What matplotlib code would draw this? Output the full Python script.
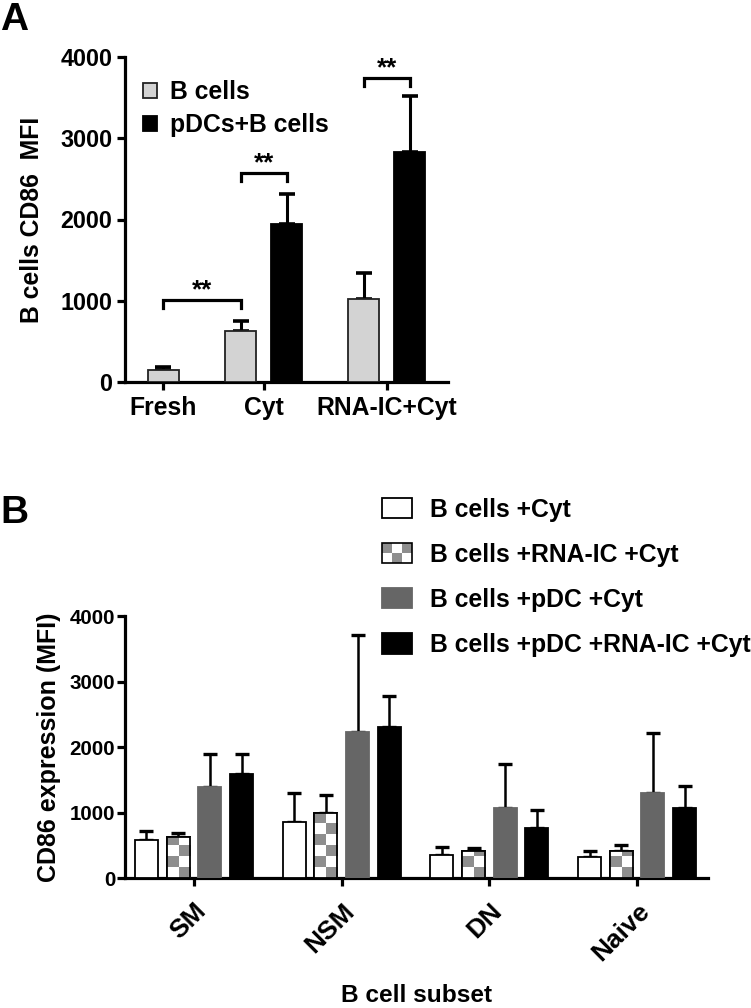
import numpy as np
import matplotlib
matplotlib.use("Agg")
import matplotlib.pyplot as plt
from matplotlib.colors import ListedColormap
from matplotlib.patches import Rectangle
from matplotlib.legend_handler import HandlerBase

plt.rcParams["font.family"] = ["Liberation Sans", "DejaVu Sans"]
plt.rcParams["font.weight"] = "bold"
plt.rcParams["axes.labelweight"] = "bold"

# ---- Panel A data ----
a_groups = ["Fresh", "Cyt", "RNA-IC+Cyt"]
a_series = ["B cells", "pDCs+B cells"]
a_bcells = [150, 628, 1018]
a_bcells_err = [35, 127, 327]
a_pdc = [np.nan, 1945, 2835]
a_pdc_err = [np.nan, 365, 690]
a_yticks = [0, 1000, 2000, 3000, 4000]
a_sig_labels = ["**", "**", "**"]
a_sig_heights = [1010, 2575, 3740]

# ---- Panel B data ----
b_groups = ["SM", "NSM", "DN", "Naive"]
b_series = ["B cells +Cyt", "B cells +RNA-IC +Cyt",
            "B cells +pDC +Cyt", "B cells +pDC +RNA-IC +Cyt"]
b_means = [
    [580, 855, 350, 330],
    [630, 995, 410, 410],
    [1400, 2236, 1068, 1295],
    [1600, 2303, 765, 1068],
]
b_errs = [
    [140, 440, 127, 81],
    [55, 277, 52, 104],
    [498, 1481, 677, 916],
    [292, 483, 280, 346],
]
b_yticks = [0, 1000, 2000, 3000, 4000]

CHECK_GRAY = "#8e8e8e"
W, H = 751, 1008
fig = plt.figure(figsize=(W / 100, H / 100), dpi=100)


def style_axes(ax, lw=2.3):
    for s in ("top", "right"):
        ax.spines[s].set_visible(False)
    for s in ("left", "bottom"):
        ax.spines[s].set_linewidth(lw)
    ax.tick_params(width=lw, length=6, direction="out")


class CheckerHandler(HandlerBase):
    def create_artists(self, legend, orig_handle, xdescent, ydescent,
                       width, height, fontsize, trans):
        arts = []
        nx, ny = 3, 2
        cw, ch = width / nx, height / ny
        for i in range(nx):
            for j in range(ny):
                c = CHECK_GRAY if (i + j) % 2 == 1 else "white"
                arts.append(Rectangle((-xdescent + i * cw, -ydescent + j * ch), cw, ch,
                                      facecolor=c, edgecolor="none", transform=trans))
        arts.append(Rectangle((-xdescent, -ydescent), width, height, facecolor="none",
                              edgecolor="black", lw=1.2, transform=trans))
        return arts


# ================= Panel A =================
axA = fig.add_axes([125 / W, 1 - 382 / H, 323 / W, 325 / H])
style_axes(axA)

a_centers = np.array([1.24, 4.47, 8.44])
a_off = 0.74
bw = 1.0
xb = a_centers - a_off
xb[0] = a_centers[0]          # Fresh has only the B cell bar
xp = a_centers + a_off

axA.bar(xb, a_bcells, width=bw, color="#d3d3d3", edgecolor="#222222",
        linewidth=1.3, zorder=3, label=a_series[0])
axA.bar(xp, a_pdc, width=bw, color="black", edgecolor="black",
        linewidth=1.3, zorder=3, label=a_series[1])
axA.errorbar(xb, a_bcells, yerr=[np.zeros(3), a_bcells_err], fmt="none",
             ecolor="black", elinewidth=2.2, capsize=6, capthick=2.6, zorder=2)
axA.errorbar(xp, a_pdc, yerr=[np.zeros(3), a_pdc_err], fmt="none",
             ecolor="black", elinewidth=2.2, capsize=6, capthick=2.6, zorder=2)

# significance brackets: Fresh->Cyt B cells, then within Cyt and RNA-IC
pairs = [(xb[0], xb[1]), (xb[1], xp[1]), (xb[2], xp[2])]
for (x1, x2), h, lab in zip(pairs, a_sig_heights, a_sig_labels):
    axA.plot([x1, x1, x2, x2], [h - 100, h, h, h - 100], color="black",
             lw=2.3, solid_joinstyle="miter", clip_on=False)
    axA.text((x1 + x2) / 2, h + 30, lab, ha="center", va="baseline",
             fontsize=18.5, fontweight="bold")

axA.set_xlim(0, 10.42)
axA.set_ylim(0, 4000)
axA.set_yticks(a_yticks)
axA.set_xticks(a_centers)
axA.set_xticklabels(a_groups, fontsize=17.8)
axA.tick_params(axis="y", labelsize=16.8, pad=3)
axA.tick_params(axis="x", pad=4)
axA.set_ylabel("B cells CD86  MFI", fontsize=17.8)
axA.yaxis.set_label_coords(-0.25, 0.5)
axA.legend(loc="upper left", bbox_to_anchor=(143 / W, 1 - 80 / H),
           bbox_transform=fig.transFigure, frameon=False, fontsize=17.8,
           handlelength=0.55, handleheight=0.55, handletextpad=0.55,
           labelspacing=0.38, borderpad=0, borderaxespad=0)

# ================= Panel B =================
axB = fig.add_axes([125 / W, 1 - 878.3 / H, 583 / W, 262 / H])
style_axes(axB)

b_x = np.arange(len(b_groups))
step = 0.2146
bwB = 0.156
b_colors = ["white", "white", "#666666", "black"]
b_edges = ["black", "black", "#666666", "black"]
cell = 165
handles = []
for k in range(4):
    xs = b_x + (k - 1.5) * step
    bars = axB.bar(xs, b_means[k], width=bwB, color=b_colors[k],
                   edgecolor=b_edges[k], linewidth=1.3, zorder=3,
                   label=b_series[k])
    handles.append(bars)
    axB.errorbar(xs, b_means[k], yerr=[np.zeros(4), b_errs[k]], fmt="none",
                 ecolor="black", elinewidth=1.8, capsize=5, capthick=2.4, zorder=2)
    if k == 1:
        for rect in bars:
            x0, w, h = rect.get_x(), rect.get_width(), rect.get_height()
            nrows = int(np.ceil(h / cell))
            ii, jj = np.meshgrid(np.arange(2), np.arange(nrows))
            pat = (ii + jj) % 2
            im = axB.imshow(pat, extent=(x0, x0 + w, 0, nrows * cell),
                            origin="lower", cmap=ListedColormap(["white", CHECK_GRAY]),
                            aspect="auto", interpolation="nearest", zorder=3.5)
            im.set_clip_path(rect)
            axB.bar(x0 + w / 2, h, width=w, color="none", edgecolor="black",
                    linewidth=1.3, zorder=4)

axB.set_xlim(-0.467, 3.48)
axB.set_ylim(0, 4000)
axB.set_yticks(b_yticks)
axB.set_xticks(b_x)
axB.set_xticklabels(b_groups, fontsize=19, rotation=45, ha="right",
                    rotation_mode="anchor")
axB.tick_params(axis="y", labelsize=14.8, pad=1)
axB.tick_params(axis="x", pad=9)
axB.set_ylabel("CD86 expression (MFI)", fontsize=18)
axB.yaxis.set_label_coords(-0.11, 0.5)
axB.set_xlabel("B cell subset", fontsize=17.6)
axB.xaxis.set_label_coords(0.5, -0.405)

axB.legend(handles, b_series, loc="upper left",
           bbox_to_anchor=(382 / W, 1 - 498 / H), bbox_transform=fig.transFigure,
           frameon=False, fontsize=17.8, handlelength=1.23, handleheight=0.87,
           handletextpad=0.7, labelspacing=0.85, borderpad=0, borderaxespad=0,
           handler_map={handles[1]: CheckerHandler()})

fig.text(0.0, 1 - 30 / H, "A", fontsize=28, fontweight="bold", ha="left", va="baseline")
fig.text(0.0, 1 - 523 / H, "B", fontsize=28, fontweight="bold", ha="left", va="baseline")

fig.savefig("out.png", dpi=100)
